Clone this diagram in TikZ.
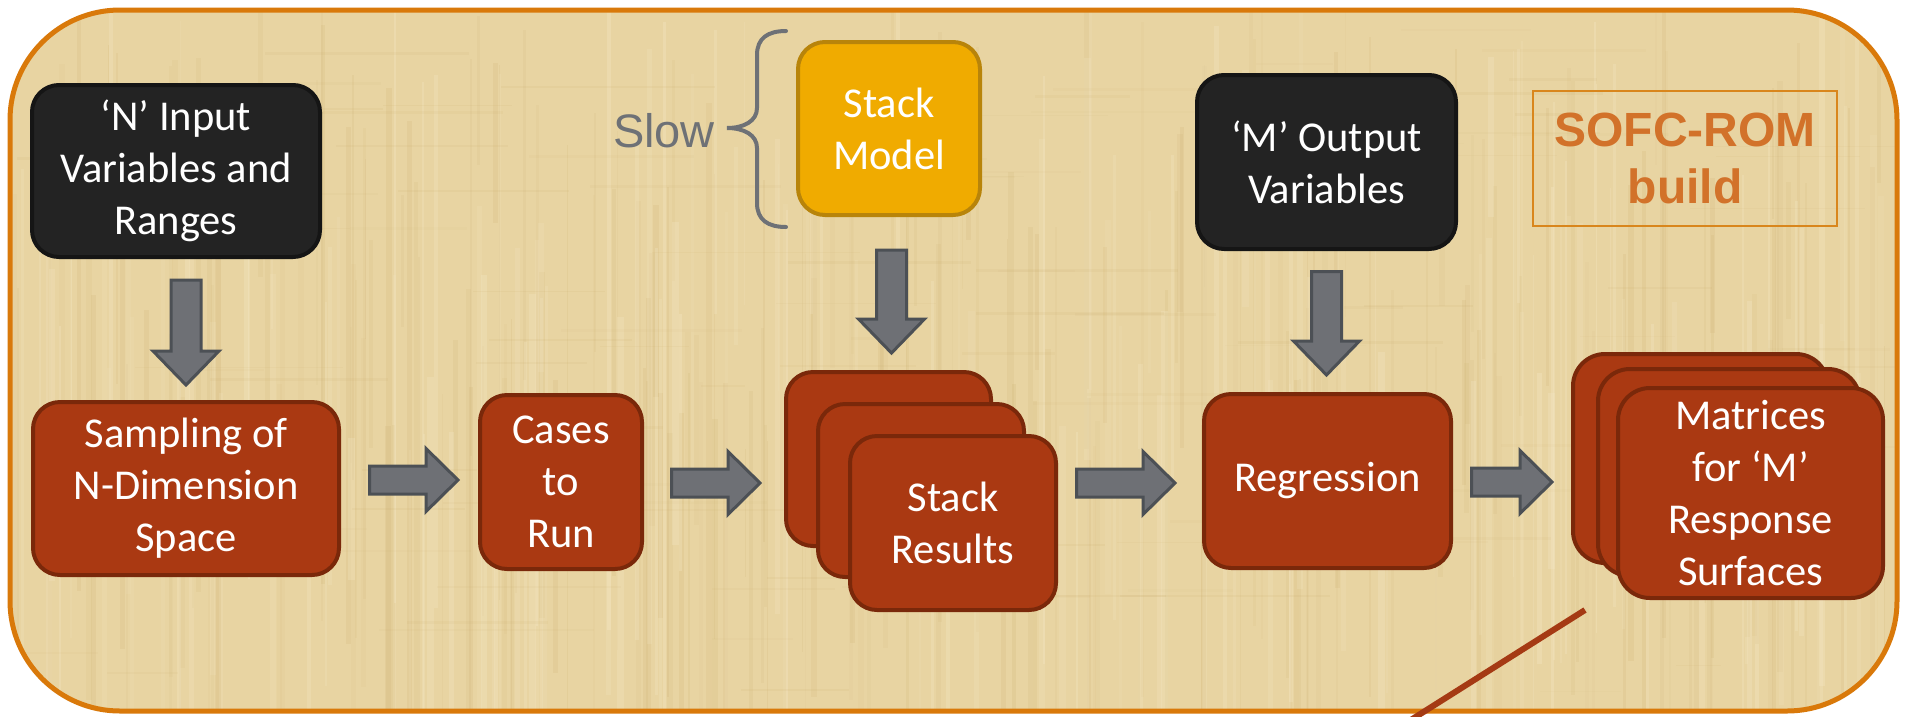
\documentclass[tikz,border=0pt]{standalone}
\usepackage{fontspec}
\setmainfont{Carlito}
\newfontfamily\labelsans{Liberation Sans}
\usetikzlibrary{calc}

\definecolor{papyrus}{HTML}{E8D4A2}
\definecolor{fibredark}{HTML}{C4A460}
\definecolor{fibrelight}{HTML}{F7EBCB}
\definecolor{framecol}{HTML}{D9790A}
\definecolor{rust}{HTML}{AA3912}
\definecolor{rustedge}{HTML}{7A280A}
\definecolor{inkbox}{HTML}{232323}
\definecolor{inkedge}{HTML}{151515}
\definecolor{gold}{HTML}{F0AB00}
\definecolor{goldedge}{HTML}{B8840A}
\definecolor{arrowgrey}{HTML}{6E7075}
\definecolor{arrowedge}{HTML}{4C5055}
\definecolor{bracegrey}{HTML}{6E7176}
\definecolor{titleorange}{HTML}{D2722A}
\definecolor{titleframe}{HTML}{D9861C}
\definecolor{pointer}{HTML}{A53A14}

\tikzset{
  box/.style={rounded corners=27pt, line width=4pt, inner sep=0pt, align=center,
    text=white, font=\fontsize{42.5}{52}\selectfont},
  darkbox/.style={box, fill=inkbox, draw=inkedge},
  rustbox/.style={box, fill=rust, draw=rustedge},
  goldbox/.style={box, fill=gold, draw=goldedge},
  blockarrow/.style={fill=arrowgrey, draw=arrowedge, line width=3pt, line join=miter},
  harrow/.style={blockarrow, to path={
    let \p1=(\tikztostart), \p2=(\tikztotarget) in
    (\x1,\y1+14pt) -- (\x2-32pt,\y1+14pt) -- (\x2-32pt,\y1+31.5pt) -- (\x2,\y1)
    -- (\x2-32pt,\y1-31.5pt) -- (\x2-32pt,\y1-14pt) -- (\x1,\y1-14pt) -- cycle}},
  varrow/.style={blockarrow, to path={
    let \p1=(\tikztostart), \p2=(\tikztotarget) in
    (\x1-15pt,\y1) -- (\x1-15pt,\y2+34pt) -- (\x1-33pt,\y2+34pt) -- (\x1,\y2)
    -- (\x1+33pt,\y2+34pt) -- (\x1+15pt,\y2+34pt) -- (\x1+15pt,\y1) -- cycle}},
}

\begin{document}
\begin{tikzpicture}[x=1pt,y=-1pt]
\useasboundingbox (0,0) rectangle (1906,716);
\fill[white] (0,0) rectangle (1906,716);

% papyrus panel with a light fibre texture
\begin{scope}
  \clip[rounded corners=110pt] (10,10) rectangle (1897,711);
  \fill[papyrus] (0,0) rectangle (1906,716);
  \pgfmathsetseed{17}
  \foreach \i in {1,...,220}{
    \pgfmathsetmacro\xx{random(10,1895)}
    \pgfmathsetmacro\yy{random(0,450)}
    \pgfmathsetmacro\ll{random(120,716)}
    \pgfmathsetmacro\ww{1+5*rnd}
    \pgfmathsetmacro\op{0.04+0.10*rnd}
    \fill[fibredark, opacity=\op] (\xx,\yy) rectangle ++(\ww,\ll);
  }
  \foreach \i in {1,...,160}{
    \pgfmathsetmacro\xx{random(10,1895)}
    \pgfmathsetmacro\yy{random(0,450)}
    \pgfmathsetmacro\ll{random(120,716)}
    \pgfmathsetmacro\ww{1+6*rnd}
    \pgfmathsetmacro\op{0.10+0.18*rnd}
    \fill[fibrelight, opacity=\op] (\xx,\yy) rectangle ++(\ww,\ll);
  }
  \foreach \i in {1,...,120}{
    \pgfmathsetmacro\xx{random(0,1850)}
    \pgfmathsetmacro\yy{random(10,705)}
    \pgfmathsetmacro\ll{random(40,220)}
    \pgfmathsetmacro\ww{1+2*rnd}
    \pgfmathsetmacro\op{0.03+0.07*rnd}
    \fill[fibredark, opacity=\op] (\xx,\yy) rectangle ++(\ll,\ww);
  }
\end{scope}
\draw[framecol, line width=5pt, rounded corners=110pt] (10,10) rectangle (1897,711);

% title
\node[draw=titleframe, line width=2pt, minimum width=304pt, minimum height=135pt,
  inner sep=0pt, align=center, text=titleorange,
  font=\labelsans\bfseries\fontsize{48}{57}\selectfont] (title) at (1685,158.5) {SOFC-ROM\\build};

% inputs and model
\node[darkbox, minimum width=288pt, minimum height=172pt] (inbox) at (176,171)
  {‘N’ Input\\Variables and\\Ranges};
\node[goldbox, minimum width=182pt, minimum height=173pt] (sm) at (889,128.5) {Stack\\Model};
\node[darkbox, minimum width=259pt, minimum height=174pt] (mo) at (1326.5,162)
  {‘M’ Output\\Variables};

% slow brace
\node[anchor=base, inner sep=0pt, text=bracegrey,
  font=\labelsans\fontsize{47}{56}\selectfont] (slow) at (664,147) {Slow};
\draw[bracegrey, line width=4pt, line cap=round]
  (786,31) .. controls (768,31) and (757,38) .. (757,55) -- (757,108)
  .. controls (757,121) and (744,128) .. (727,128)
  .. controls (744,128) and (757,135) .. (757,148) -- (757,203)
  .. controls (757,220) and (768,227) .. (786,227);

% process chain
\node[rustbox, minimum width=306pt, minimum height=173pt] (samp) at (186,488.5)
  {Sampling of\\N-Dimension\\Space};
\node[rustbox, minimum width=162pt, minimum height=174pt] (cases) at (561,482) {Cases\\to\\Run};
\node[rustbox, minimum width=205pt, minimum height=174pt] (sr1) at (888.5,459) {};
\node[rustbox, minimum width=206pt, minimum height=173pt] (sr2) at (921,490.5) {};
\node[rustbox, minimum width=206pt, minimum height=174pt] (sr3) at (953,523) {Stack\\Results};
\node[rustbox, minimum width=247pt, minimum height=174pt] (reg) at (1327.5,481) {Regression};
\node[rustbox, rounded corners=32pt, minimum width=255pt, minimum height=209pt] (mr1) at (1700.5,458.5) {};
\node[rustbox, rounded corners=32pt, minimum width=262pt, minimum height=207pt] (mr2) at (1729,472.5) {};
\node[rustbox, rounded corners=32pt, minimum width=265pt, minimum height=210pt] (mr3) at (1750.5,493)
  {Matrices\\for ‘M’\\Response\\Surfaces};

% block arrows
\draw[varrow] ($(samp.north |- inbox.south)+(0,21)$) to ($(samp.north)+(0,-15)$);
\draw[varrow] ($(sm.south)+(2.5,33)$) to ($(sr1.north)+(3.5,-17)$);
\draw[varrow] ($(mo.south)+(0,20.5)$) to ($(reg.north -| mo.south)+(0,-17)$);
\draw[harrow] ($(samp.east |- cases.west)+(28.5,-2)$) to ($(cases.west)+(-20,-2)$);
\draw[harrow] ($(cases.east)+(27.5,1)$) to ($(cases.east -| sr1.west)+(-24,1)$);
\draw[harrow] ($(sr3.east |- reg.west)+(18.5,2)$) to ($(reg.west)+(-27,2)$);
\draw[harrow] ($(reg.east)+(18.5,1)$) to ($(reg.east -| mr1.west)+(-19,1)$);

% pointer line leaving the panel
\coordinate (ptr) at (1585,610);
\coordinate (ptrend) at (1406,723);
\draw[pointer, line width=6pt] (ptr) -- (ptrend);
\end{tikzpicture}
\end{document}
